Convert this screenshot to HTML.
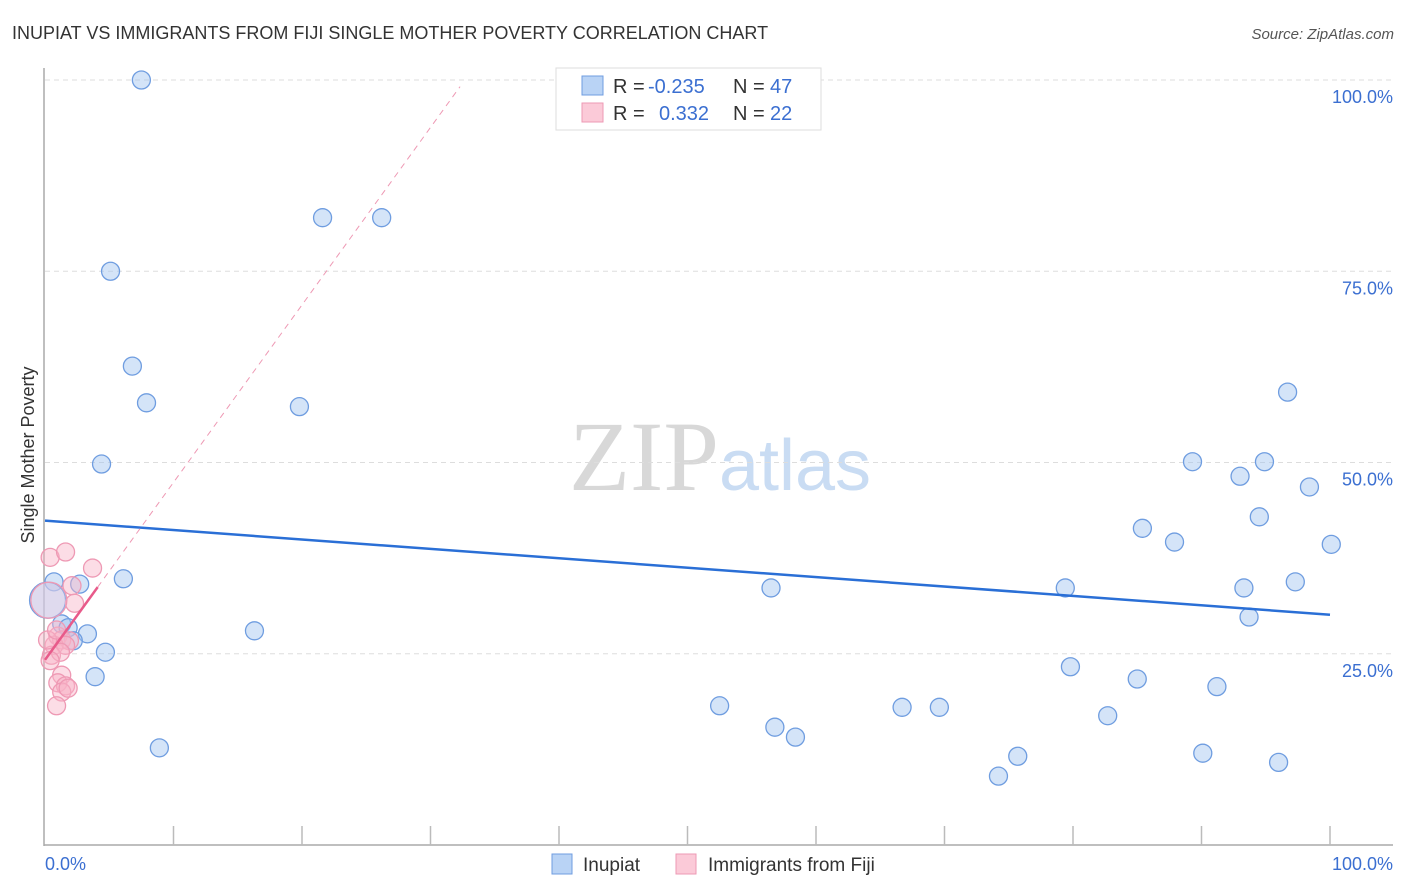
<!DOCTYPE html>
<html><head><meta charset="utf-8"><style>
body{margin:0;background:#fff;font-family:"Liberation Sans",sans-serif;}
svg{display:block}
</style></head><body>
<svg id="chart" width="1406" height="892" xmlns="http://www.w3.org/2000/svg">
<text x="12" y="39" font-size="18" fill="#333">INUPIAT VS IMMIGRANTS FROM FIJI SINGLE MOTHER POVERTY CORRELATION CHART</text>
<text x="1394" y="39" font-size="15" fill="#555" font-style="italic" text-anchor="end">Source: ZipAtlas.com</text>
<text x="720" y="490" font-size="100" text-anchor="middle" font-family="Liberation Serif,serif"><tspan fill="#d8d8d8">ZIP</tspan><tspan fill="#c9dcf3" font-family="Liberation Sans,sans-serif" font-size="72">atlas</tspan></text>
<text transform="translate(34,455) rotate(-90)" font-size="18" fill="#333" text-anchor="middle">Single Mother Poverty</text>
<g id="grid"></g><g id="axes"></g><g id="marks"></g>
<g>
<rect x="556" y="68" width="265" height="62" fill="#fff" stroke="#ddd"/>
<rect x="582" y="76" width="21" height="19" fill="#b9d3f5" stroke="#6f9de0"/>
<rect x="582" y="103" width="21" height="19" fill="#fbcad8" stroke="#ee99b4"/>
<text x="613" y="93" font-size="20" fill="#333">R = <tspan x="648" fill="#3b6fd1">-0.235</tspan><tspan x="733">N = </tspan><tspan x="770" fill="#3b6fd1">47</tspan></text>
<text x="613" y="120" font-size="20" fill="#333">R = <tspan x="659" fill="#3b6fd1">0.332</tspan><tspan x="733">N = </tspan><tspan x="770" fill="#3b6fd1">22</tspan></text>
</g>
<g>
<rect x="552" y="854" width="20" height="20" fill="#b9d3f5" stroke="#6f9de0"/>
<text x="583" y="871" font-size="19" fill="#333">Inupiat</text>
<rect x="676" y="854" width="20" height="20" fill="#fbcad8" stroke="#ee99b4"/>
<text x="708" y="871" font-size="19" fill="#333">Immigrants from Fiji</text>
</g>
</svg>
<script>
const blueX=[7.5,21.6,26.2,5.1,6.8,7.9,19.8,4.4,0.7,2.7,6.1,1.3,1.8,3.3,2.2,4.7,3.9,8.9,16.3,0.2,56.5,52.5,56.8,58.4,66.7,69.6,74.2,75.7,79.4,79.8,82.7,85.0,85.4,87.9,89.3,90.1,91.2,93.0,93.3,93.7,94.5,94.9,96.0,96.7,97.3,98.4,100.1];
const blueY=[100,82,82,75,62.6,57.8,57.3,49.8,34.4,34.1,34.8,28.9,28.4,27.6,26.7,25.2,22.0,12.7,28.0,32.0,33.6,18.2,15.4,14.1,18.0,18.0,9.0,11.6,33.6,23.3,16.9,21.7,41.4,39.6,50.1,12.0,20.7,48.2,33.6,29.8,42.9,50.1,10.8,59.2,34.4,46.8,39.3];
const pinkX=[0.4,1.6,3.7,2.1,2.3,0.3,1.0,1.3,1.9,0.7,1.6,0.5,1.2,0.4,1.3,1.0,1.6,1.3,0.9,1.8,0.2,0.9];
const pinkY=[37.6,38.3,36.2,33.9,31.6,32.0,27.3,26.8,26.7,26.1,26.1,24.8,25.2,24.1,22.2,21.2,20.8,20.0,18.2,20.5,26.8,28.1];
const blueTrend=[42.4,30.1];
const pinkTrend=[24.2,2.32];
const yTicks=[25,50,75,100];
const xTicks=[0,10,20,30,40,50,60,70,80,90,100];
const NS="http://www.w3.org/2000/svg";
const sx=v=>45+v*12.85, sy=v=>845-v*7.65;
function mk(g,t,a){const e=document.createElementNS(NS,t);for(const k in a)e.setAttribute(k,a[k]);document.getElementById(g).appendChild(e);return e;}
yTicks.forEach(t=>{
 const l=mk('grid','line',{x1:45,x2:1393,y1:sy(t),y2:sy(t),stroke:'#ddd','stroke-dasharray':'5,4'});
 
 
 const tx=mk('grid','text',{x:1393,y:sy(t)+23,'font-size':18,fill:'#3b6fd1','text-anchor':'end'});
 tx.textContent=t.toFixed(1)+'%';
 
 
});
mk('axes','line',{x1:44,x2:44,y1:68,y2:846,stroke:'#aaa','stroke-width':1.5});
mk('axes','line',{x1:44,x2:1393,y1:845,y2:845,stroke:'#aaa','stroke-width':1.5});
xTicks.forEach(t=>{if(t>0){const l=mk('axes','line',{x1:sx(t),x2:sx(t),y1:826,y2:845,stroke:'#bbb','stroke-width':1.5});
 
 }});
[[0,'start',45],[100,'end',1393]].forEach(([v,a,x])=>{const t=mk('axes','text',{x:x,y:870,'font-size':18,fill:'#3b6fd1','text-anchor':a});t.textContent=v.toFixed(1)+'%';
 
 });
blueX.forEach((x,i)=>{const c=mk('marks','circle',{cx:sx(x),cy:sy(blueY[i]),r:(i==19?18:9),fill:(i==19?'rgba(185,200,235,0.5)':'rgba(160,195,240,0.45)'),stroke:'#6f9de0','stroke-width':1.3});
 
 });
pinkX.forEach((x,i)=>{const c=mk('marks','circle',{cx:sx(x),cy:sy(pinkY[i]),r:(i==5?18:9),fill:(i==5?'rgba(230,200,225,0.35)':'rgba(248,180,200,0.45)'),stroke:'#ee99b4','stroke-width':1.3});
 
 });
const bl=mk('marks','line',{x1:sx(0),y1:sy(blueTrend[0]),x2:sx(100),y2:sy(blueTrend[1]),stroke:'#2a6fd6','stroke-width':2.5});


const pd=mk('marks','line',{x1:sx(4.1),y1:sy(pinkTrend[0]+pinkTrend[1]*4.1),x2:sx(32.3),y2:sy(pinkTrend[0]+pinkTrend[1]*32.3),stroke:'#ee99b4','stroke-width':1,'stroke-dasharray':'6,5'});


const pl=mk('marks','line',{x1:sx(0),y1:sy(pinkTrend[0]),x2:sx(4.1),y2:sy(pinkTrend[0]+pinkTrend[1]*4.1),stroke:'#e85a8a','stroke-width':2.5});


</script>
</body></html>
